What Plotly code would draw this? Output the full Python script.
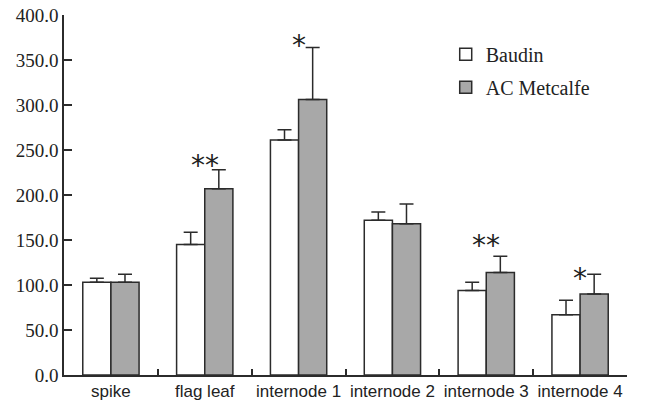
import plotly.graph_objects as go

categories = ["spike", "flag leaf", "internode 1", "internode 2", "internode 3", "internode 4"]
baudin = [103, 145, 261, 172, 94, 67]
baudin_err = [4.5, 13.5, 11.5, 9, 9, 16]
metcalfe = [103, 207, 306, 168, 114, 90]
metcalfe_err = [9, 21, 58, 22, 18, 22]
significance = ["", "**", "*", "", "**", "*"]
y_ticks = [0, 50, 100, 150, 200, 250, 300, 350, 400]

# pixel offsets of the significance marks above the error caps (style only)
star_shift = [0, 4, 2, 0, 11, -4]

axis_col = "#2b2b2b"
fig = go.Figure()
fig.add_trace(go.Bar(
    x=categories, y=baudin, name="Baudin",
    marker=dict(color="white", line=dict(color=axis_col, width=1.5)),
    error_y=dict(type="data", array=baudin_err, symmetric=False,
                 arrayminus=[0] * len(baudin_err), color=axis_col, thickness=1.5, width=7),
    legendgroup="a",
))
fig.add_trace(go.Bar(
    x=categories, y=metcalfe, name="AC Metcalfe",
    marker=dict(color="#a8a8a8", line=dict(color=axis_col, width=1.5)),
    error_y=dict(type="data", array=metcalfe_err, symmetric=False,
                 arrayminus=[0] * len(metcalfe_err), color=axis_col, thickness=1.5, width=7),
    legendgroup="b",
))

for cat, s, v, e, sh in zip(categories, significance, metcalfe, metcalfe_err, star_shift):
    if s:
        fig.add_annotation(x=cat, y=v + e, text=s, showarrow=False,
                           yanchor="middle", yshift=sh,
                           font=dict(family="DejaVu Sans", size=28, color="#222"))

fig.update_layout(
    width=645, height=402,
    margin=dict(l=64, r=18, t=15, b=27, autoexpand=False),
    paper_bgcolor="white", plot_bgcolor="white",
    barmode="group", bargap=0.40, bargroupgap=0,
    showlegend=True,
    legend=dict(x=0.678, y=0.945, xanchor="left", yanchor="top",
                font=dict(family="Liberation Serif", size=20, color="#222"),
                traceorder="grouped", tracegroupgap=4, bgcolor="rgba(0,0,0,0)",
                itemwidth=30),
)
fig.update_xaxes(
    showline=True, linecolor=axis_col, linewidth=1.5, automargin=False,
    ticks="inside", tickson="boundaries", ticklen=6, tickcolor=axis_col, tickwidth=1.5,
    tickfont=dict(family="Liberation Sans", size=17, color="#222"), tickangle=0,
    showgrid=False,
)
fig.update_yaxes(
    range=[0, 400], tickvals=y_ticks, tickformat=".1f", automargin=False,
    showline=True, linecolor=axis_col, linewidth=1.5,
    ticks="inside", ticklen=8, tickcolor=axis_col, tickwidth=1.5,
    tickfont=dict(family="Liberation Serif", size=19, color="#222"),
    showgrid=False, zeroline=False,
)

fig.write_html("out.html", config={"displayModeBar": False},
               post_script="document.body.style.margin='0';")
